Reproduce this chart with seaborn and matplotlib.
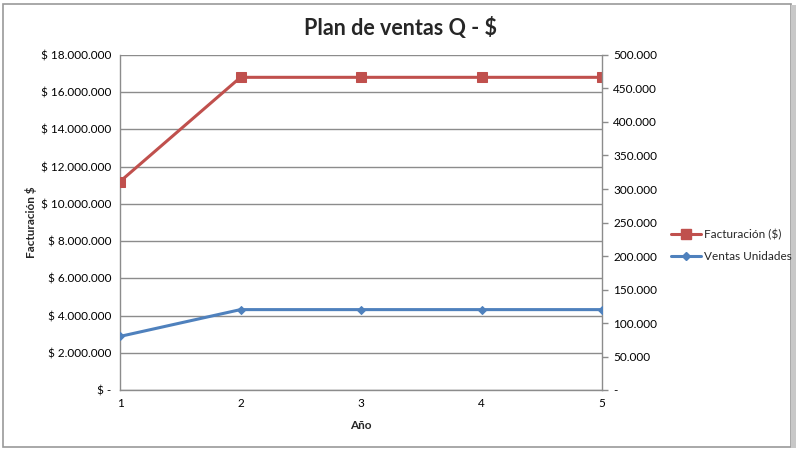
import matplotlib
matplotlib.use('Agg')
import matplotlib.pyplot as plt
import seaborn as sns
import pandas as pd
from matplotlib.ticker import FuncFormatter, MultipleLocator
from matplotlib.patches import Rectangle
from matplotlib.lines import Line2D

# data
anios = [1, 2, 3, 4, 5]
facturacion = [11200000, 16800000, 16800000, 16800000, 16800000]
ventas_unidades = [80000, 120000, 120000, 120000, 120000]

RED = '#C0504D'
BLUE = '#4F81BD'
GRID = '#8C8C8C'

sns.set_style("white")
plt.rcParams['font.family'] = ['Lato', 'DejaVu Sans']

df = pd.DataFrame({'Año': anios, 'Facturación': facturacion, 'Unidades': ventas_unidades})

fig = plt.figure(figsize=(8, 4.5), dpi=100)
ax = fig.add_axes([0.15, 0.1333, 0.6025, 0.7445])
ax2 = ax.twinx()

sns.lineplot(data=df, x='Año', y='Facturación', ax=ax, color=RED, marker='s',
             markersize=7, markeredgecolor=RED, linewidth=2.2, zorder=3)
sns.lineplot(data=df, x='Año', y='Unidades', ax=ax2, color=BLUE, marker='D',
             markersize=4.3, markeredgecolor=BLUE, linewidth=2.2, zorder=3)

ax.set_xlim(1, 5)
ax.set_ylim(0, 18000000)
ax2.set_ylim(0, 500000)
ax.yaxis.set_major_locator(MultipleLocator(2000000))
ax2.yaxis.set_major_locator(MultipleLocator(50000))
ax.set_xticks(anios)


def miles(v):
    return f"{int(round(v)):,}".replace(',', '.')


ax.yaxis.set_major_formatter(FuncFormatter(lambda v, p: '$ -' if v == 0 else '$ ' + miles(v)))
ax2.yaxis.set_major_formatter(FuncFormatter(lambda v, p: '-' if v == 0 else miles(v)))

ax.grid(True, axis='y', color=GRID, linewidth=1)
ax.set_axisbelow(True)
for a in (ax, ax2):
    for s in a.spines.values():
        s.set_visible(False)
ax.spines['left'].set_visible(True)
ax.spines['bottom'].set_visible(True)
ax2.spines['right'].set_visible(True)
for s in (ax.spines['left'], ax.spines['bottom'], ax2.spines['right']):
    s.set_color(GRID)
    s.set_linewidth(1)

ax.tick_params(axis='y', length=0, labelsize=8.5, colors='black', pad=6)
ax.tick_params(axis='x', length=0, labelsize=8.5, colors='black', pad=6)
ax2.tick_params(axis='y', length=4, width=1, color=GRID, labelsize=8.5, labelcolor='black', pad=4)

ax.set_xlabel('Año', fontsize=8.5, fontweight='bold', labelpad=8)
ax.set_ylabel('Facturación $', fontsize=8.5, fontweight='bold', labelpad=3)
ax2.set_ylabel('')

fig.text(0.5, 0.937, 'Plan de ventas Q - $', ha='center', va='center',
         fontsize=15.5, fontweight='bold')

handles = [Line2D([], [], color=RED, marker='s', markersize=7, linewidth=2.2),
           Line2D([], [], color=BLUE, marker='D', markersize=4.3, linewidth=2.2)]
fig.legend(handles, ['Facturación ($)', 'Ventas Unidades'], loc='center left',
           bbox_to_anchor=(0.825, 0.455), frameon=False, fontsize=8.5,
           handlelength=2.6, handletextpad=0.2, labelspacing=0.9)

# frame around the chart like the spreadsheet object
fig.patches.append(Rectangle((0.004, 0.006), 0.985, 0.985, transform=fig.transFigure,
                             fill=False, edgecolor='#9A9A9A', linewidth=1.2))
fig.patches.append(Rectangle((0.989, 0.004), 0.006, 0.985, transform=fig.transFigure,
                             facecolor='#C8C8C8', edgecolor='none'))

fig.savefig('out.png', dpi=100)
